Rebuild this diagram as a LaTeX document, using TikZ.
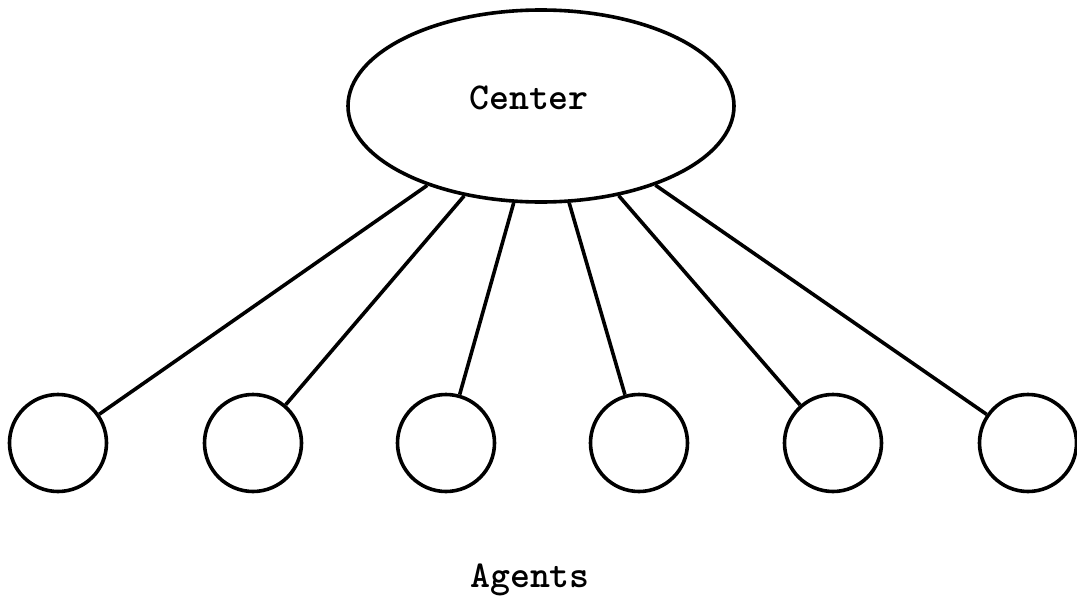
\documentclass[tikz,border=0pt]{standalone}
\usepackage{fontspec}
\usetikzlibrary{shapes.geometric}
\begin{document}
\begin{tikzpicture}[x=1pt,y=-1pt,
  hub/.style={draw,line width=3.6pt,ellipse,minimum width=386pt,minimum height=192pt,inner sep=0pt},
  agent/.style={draw,line width=3.6pt,circle,minimum size=97pt,inner sep=0pt},
  link/.style={line width=3.6pt},
  lbl/.style={font=\ttfamily\bfseries\fontsize{38}{41}\selectfont,inner sep=0pt}]
\useasboundingbox (0,0) rectangle (1077,597);
% central hub
\node[hub] (center) at (541,106) {};
\node[lbl,anchor=base] (ctext) at (529,109) {Center};
% agents along the bottom row
\foreach \i/\x in {1/58,2/253,3/446,4/639,5/833,6/1028}{
  \node[agent] (a\i) at (\x,443) {};
  \draw[link] (center) -- (a\i);
}
\node[lbl,anchor=base] (agents) at (530,587) {Agents};
\end{tikzpicture}
\end{document}
